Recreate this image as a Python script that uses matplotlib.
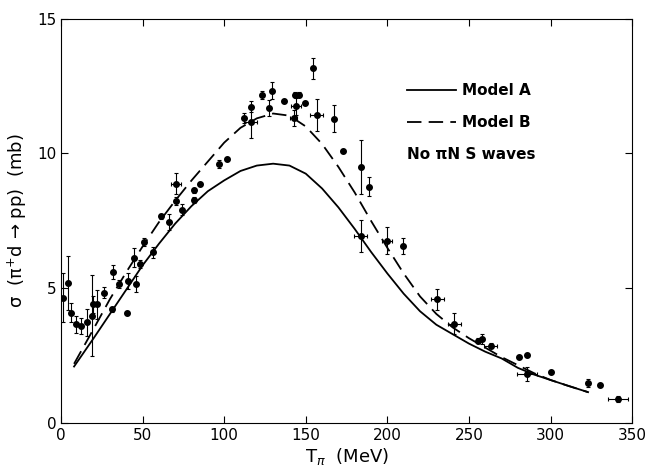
import matplotlib
matplotlib.use("Agg")
from matplotlib import pyplot as plt

# measured points
T = [1, 4.1, 6.1, 9.2, 12.3, 16.1, 18.8, 19.8, 22.3, 26.4, 31.1, 32.1, 35.8, 40.3, 41.3,
     44.9, 46.0, 48.4, 51.1, 56.6, 61.3, 66.3, 70.4, 70.4, 74.0, 81.7, 81.7, 85.2, 96.8,
     101.5, 111.9, 116.4, 116.4, 123.3, 129.6, 127.2, 136.8, 142.5, 143.6, 145.6, 144.2,
     149.7, 154.6, 156.7, 167.3, 172.6, 183.8, 188.9, 183.8, 199.6, 209.8, 230.6, 241.0,
     255.7, 257.7, 263.3, 280.8, 285.7, 285.7, 300.2, 323.1, 330.2, 341.5]
sigma = [4.65, 5.19, 4.09, 3.66, 3.6, 3.74, 3.99, 4.4, 4.4, 4.84, 4.22, 5.61, 5.17, 4.09,
         5.27, 6.14, 5.15, 5.9, 6.73, 6.33, 7.67, 7.45, 8.22, 8.88, 7.91, 8.28, 8.63, 8.88,
         9.6, 9.79, 11.31, 11.16, 11.73, 12.18, 12.33, 11.68, 11.95, 11.31, 12.18, 12.18,
         11.74, 11.87, 13.15, 11.43, 11.28, 10.1, 9.5, 8.76, 6.93, 6.77, 6.56, 4.59, 3.69,
         3.06, 3.12, 2.87, 2.47, 2.52, 1.83, 1.9, 1.48, 1.42, 0.9]
dsigma = [0.9, 1.0, 0.35, 0.3, 0.3, 0.5, 1.5, 0.3, 0.55, 0.2, 0.1, 0.25, 0.15, 0, 0.3,
          0.35, 0.3, 0.15, 0.15, 0.2, 0.1, 0.3, 0.15, 0.4, 0.2, 0.1, 0.1, 0, 0.15,
          0, 0.2, 0.6, 0.2, 0.15, 0.3, 0.3, 0, 0.3, 0.1, 0.1, 0.3,
          0, 0.4, 0.6, 0.5, 0, 1.0, 0.35, 0.6, 0.5, 0.3, 0.4, 0.4,
          0.1, 0.2, 0.1, 0, 0, 0.25, 0, 0.15, 0, 0.1]
dT = [1.5, 0, 0, 0, 0, 0, 0, 0, 0, 0, 0, 0, 0, 0, 0,
      0, 0, 0, 0, 0, 0, 0, 0, 3, 0, 0, 0, 0, 0,
      0, 0, 4, 0, 0, 0, 0, 0, 2, 0, 0, 3,
      0, 0, 4, 0, 0, 0, 0, 4, 3, 0, 4, 4,
      0, 0, 4, 0, 0, 6, 0, 0, 0, 6]

# model curves
T_model = [8, 20, 30, 40, 50, 60, 70, 80, 90, 100, 110, 120, 130, 140, 150, 160, 170, 180,
           190, 200, 210, 220, 230, 240, 250, 260, 270, 280, 290, 300, 310, 323]
model_a = [2.1, 3.15, 4.05, 4.95, 5.85, 6.65, 7.4, 8.05, 8.6, 9.0, 9.35, 9.55, 9.62, 9.55,
           9.25, 8.7, 8.0, 7.2, 6.35, 5.55, 4.8, 4.15, 3.65, 3.3, 2.95, 2.65, 2.4, 2.05,
           1.8, 1.6, 1.4, 1.15]
model_b = [2.2, 3.5, 4.6, 5.6, 6.55, 7.45, 8.25, 9.0, 9.7, 10.4, 10.95, 11.3, 11.48, 11.4,
           11.0, 10.35, 9.5, 8.55, 7.5, 6.5, 5.55, 4.7, 4.05, 3.55, 3.15, 2.8, 2.45, 2.15,
           1.85, 1.6, 1.4, 1.15]

fig = plt.figure(figsize=(6.49, 4.76), dpi=100)
ax = fig.add_axes([0.094, 0.111, 0.88, 0.85])

ax.plot(T_model, model_a, color="black", lw=1.3)
ax.plot(T_model, model_b, color="black", lw=1.3, dashes=(8, 4))
ax.errorbar(T, sigma, yerr=dsigma, xerr=dT, fmt="o", color="black", ms=4,
            elinewidth=0.8, capsize=1.5, capthick=0.8)

# legend drawn by hand, as in the original figure
ax.plot([212, 242], [12.35, 12.35], color="black", lw=1.3)
ax.plot([212, 242], [11.15, 11.15], color="black", lw=1.3, dashes=(8, 4))
ax.text(246, 12.35, "Model A", fontsize=11, fontweight="bold", va="center")
ax.text(246, 11.15, "Model B", fontsize=11, fontweight="bold", va="center")
ax.text(212, 9.95, "No \u03c0N S waves", fontsize=11, fontweight="bold", va="center")

ax.set_xlim(0, 350)
ax.set_ylim(0, 15)
ax.set_xticks(range(0, 351, 50))
ax.set_yticks([0, 5, 10, 15])
ax.tick_params(direction="in", top=True, right=True, length=5, labelsize=11)
for s in ax.spines.values():
    s.set_linewidth(0.8)

ax.set_xlabel(r"T$_\pi$  (MeV)", fontsize=13, labelpad=2)
ax.set_ylabel("\u03c3  (\u03c0$^{+}$d \u2192 pp)  (mb)", fontsize=13, labelpad=6)

plt.savefig("out.png", dpi=100)
